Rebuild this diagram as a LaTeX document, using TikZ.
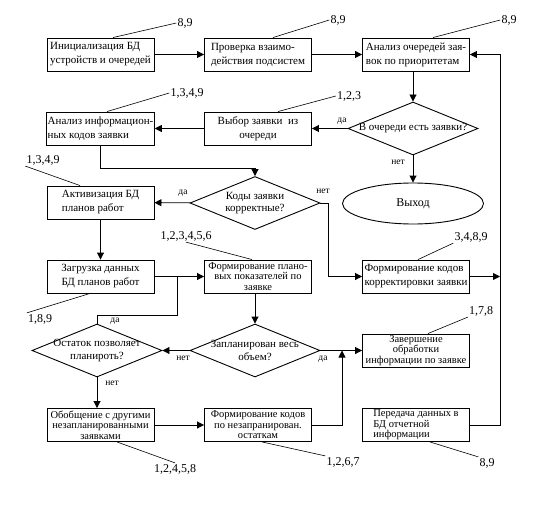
\documentclass[tikz,border=0pt]{standalone}
\usepackage{fontspec}
\setmainfont{Liberation Serif}
\usetikzlibrary{arrows.meta,shapes.geometric}

\begin{document}
\begin{tikzpicture}[x=1pt,y=-1pt]
\tikzset{
  procbox/.style={rectangle,draw=black,line width=0.9pt,minimum width=107pt,minimum height=33pt,inner sep=1pt,font=\fontsize{11}{14}\selectfont},
  tightbox/.style={procbox,font=\fontsize{10.5}{10.5}\selectfont},
  decision/.style={diamond,draw=black,line width=0.9pt,minimum width=130pt,minimum height=53pt,inner sep=0pt},
  decisiontext/.style={align=center,inner sep=0pt,font=\fontsize{11}{12.5}\selectfont},
  terminal/.style={ellipse,draw=black,line width=0.9pt,minimum width=141pt,minimum height=41pt,font=\fontsize{12}{14}\selectfont},
  flowline/.style={draw=black,line width=0.9pt},
  directed/.style={flowline,-{Triangle[length=7pt,width=7pt]}},
  leader/.style={draw=black,line width=0.6pt},
  numlabel/.style={inner sep=1pt,font=\fontsize{12}{14}\selectfont},
  answer/.style={inner sep=0pt,font=\fontsize{9.5}{10}\selectfont}
}
\useasboundingbox (0,0) rectangle (545,505);
% blocks
\node[procbox,align=left] (b1) at (100.5,54.5) {Инициализация БД\\устройств и очередей};
\node[procbox,align=left] (b2) at (258,54.5) {Проверка взаимо-\\действия подсистем};
\node[procbox,align=left] (b3) at (416,54.5) {Анализ очередей зая-\\вок по приоритетам};
\node[decision,label={[decisiontext]center:В очереди есть заявки?}] (d1) at (413,128.5) {};
\node[procbox,align=center] (b5) at (258,128.5) {Выбор заявки \ из\\очереди};
\node[procbox,align=left] (b6) at (100.5,128.5) {Анализ информацион-\\ных кодов заявки};
\node[terminal] (e1) at (413,203.5) {Выход};
\node[decision,label={[decisiontext]center:{Коды заявки\\корректные?}}] (d2) at (255,203) {};
\node[procbox,align=left] (b9) at (100.5,202.5) {Активизация БД\\планов работ};
\node[procbox,align=center] (b10) at (100.5,276.5) {Загрузка данных\\БД планов работ};
\node[tightbox,align=center] (b11) at (258,276.5) {Формирование плано-\\вых показателей по\\заявке};
\node[procbox,align=left] (b12) at (416,276.5) {Формирование кодов\\корректировки заявки};
\node[decision,label={[decisiontext]center:{Остаток позволяет\\планироть?}}] (d3) at (97,350.5) {};
\node[decision,label={[decisiontext]center:{Запланирован весь\\объем?}}] (d4) at (255,350.5) {};
\node[tightbox,align=center] (b15) at (416,350.5) {Завершение\\обработки\\информации по заявке};
\node[tightbox,align=center] (b16) at (100.5,425) {Обобщение с другими\\незапланированными\\заявками};
\node[tightbox,align=center] (b17) at (258,425) {Формирование кодов\\по незапранирован.\\остаткам};
\node[tightbox,align=left] (b18) at (416,425) {Передача данных в\\БД отчетной\\информации};
% bend points
\coordinate (k1) at (255,168);
\coordinate (k2) at ([xshift=8pt]d2.east);
\coordinate (k3) at (97,315);
\coordinate (j1) at ([xshift=23pt]b10.east);
\coordinate (j2) at (342,350.5);
\coordinate (rail) at (500,0);
% flow
\draw[directed] (b1) -- (b2);
\draw[directed] (b2) -- (b3);
\draw[directed] (b3.south -| d1.north) -- (d1.north);
\draw[directed] (d1) -- (b5);
\draw[directed] (d1) -- (e1);
\draw[directed] (b5) -- (b6);
\draw[directed] (b6.south) |- (k1) -- (d2.north);
\draw[directed] (d2) -- (b9);
\draw[directed] (d2.east) -- (k2) |- (b12.west);
\draw[directed] (b12.east) -- (b12.east -| rail);
\draw[directed] (b18.east) -- (b18.east -| rail) |- (b3.east);
\draw[directed] (b9) -- (b10);
\draw[directed] (b10) -- (b11);
\draw[flowline] (d3.north) -- (k3) -| (j1);
\draw[directed] (b11.south -| d4.north) -- (d4.north);
\draw[directed] (d4) -- (d3);
\draw[directed] (d4) -- (b15);
\draw[directed] (d3.south) -- (d3.south |- b16.north);
\draw[directed] (b16) -- (b17);
\draw[directed] (b17.east) -| (j2);
% answers
\node[answer] (a1) at (342,121) {да};
\node[answer] (a2) at (398,162) {нет};
\node[answer] (a3) at (183,193) {да};
\node[answer] (a4) at (323,191) {нет};
\node[answer] (a5) at (115,321) {да};
\node[answer] (a6) at (183,358) {нет};
\node[answer] (a7) at (323,359) {да};
\node[answer] (a8) at (112,383) {нет};
% numbers
\node[numlabel] (n1) at (185,23) {8,9};
\node[numlabel] (n2) at (338,20) {8,9};
\node[numlabel] (n3) at (509,20) {8,9};
\node[numlabel] (n6) at (187,93) {1,3,4,9};
\node[numlabel] (n5) at (349,96) {1,2,3};
\node[numlabel] (n9) at (43,160) {1,3,4,9};
\node[numlabel] (n11) at (186,236) {1,2,3,4,5,6};
\node[numlabel] (n12) at (471,237) {3,4,8,9};
\node[numlabel] (n10) at (40,319) {1,8,9};
\node[numlabel] (n15) at (481,311) {1,7,8};
\node[numlabel] (n16) at (175,469) {1,2,4,5,8};
\node[numlabel] (n17) at (343,462) {1,2,6,7};
\node[numlabel] (n18) at (487,463) {8,9};
\draw[leader] ([xshift=12.5pt]b1.north) -- (n1.west);
\draw[leader] ([xshift=15pt]b2.north) -- (n2.west);
\draw[leader] ([xshift=17pt]b3.north) -- (n3.west);
\draw[leader] ([xshift=6.5pt]b6.north) -- (n6.west);
\draw[leader] ([xshift=20pt]b5.north) -- (n5.west);
\draw[leader] ([xshift=-20.5pt]b9.north) -- (n9.south west);
\draw[leader] ([xshift=-6pt]b11.north) -- (n11.south);
\draw[leader] ([xshift=2pt]b12.north) -- (n12.south west);
\draw[leader] ([xshift=-10.5pt]b10.south) -- (n10.north west);
\draw[leader] ([xshift=12pt]b15.north) -- (n15.south west);
\draw[leader] ([xshift=16.5pt]b16.south) -- (n16.north);
\draw[leader] ([xshift=4pt]b17.south) -- (n17.north west);
\draw[leader] ([xshift=14pt]b18.south) -- (n18.north west);
\end{tikzpicture}
\end{document}
